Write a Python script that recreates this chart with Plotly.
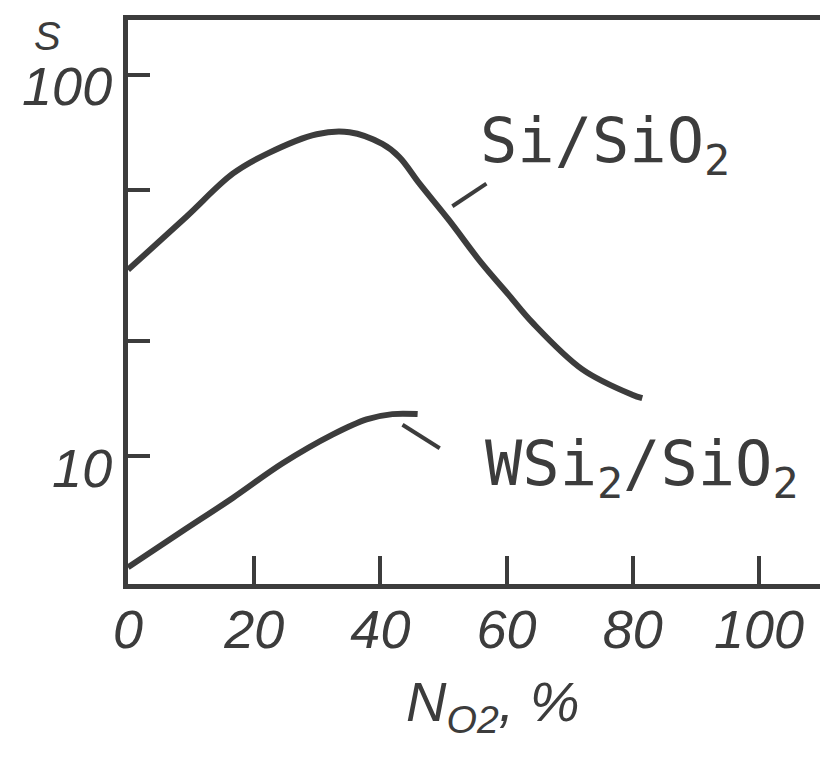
import plotly.graph_objects as go
import math

# Data (N_O2 in %, S on log scale)
n_si = [0, 9.3, 16.6, 22.0, 29.9, 35.1, 40.3, 43.0, 46.2, 50.9, 56.0, 60.4, 64.1, 72.0, 79.9, 81.5]
s_si = [30.8, 42.5, 55.0, 62.0, 69.8, 70.6, 65.8, 60.8, 51.8, 41.5, 32.1, 26.4, 22.4, 16.9, 14.5, 14.2]

n_wsi = [0, 8.7, 16.6, 24.5, 32.4, 37.8, 41.9, 45.9]
s_wsi = [5.12, 6.38, 7.78, 9.59, 11.4, 12.5, 12.9, 12.9]

x_ticks = [0, 20, 40, 60, 80, 100]
x_ticklabels = ["0", "20", "40", "60", "80", "100"]
y_ticks = [10, 20, 50, 100]
y_ticklabels = ["10", "", "", "100"]

ink = "#3c3c3c"
font_num = dict(family="Liberation Sans", size=54, color=ink, style="italic")

fig = go.Figure()
fig.add_trace(go.Scatter(x=n_si, y=s_si, mode="lines", line=dict(color=ink, width=6, shape="spline"),
                         showlegend=False, hoverinfo="skip"))
fig.add_trace(go.Scatter(x=n_wsi, y=s_wsi, mode="lines", line=dict(color=ink, width=6, shape="spline"),
                         showlegend=False, hoverinfo="skip"))
# leader lines for the curve labels
fig.add_trace(go.Scatter(x=[51.4, 56.8], y=[45.2, 51.8], mode="lines", line=dict(color=ink, width=4),
                         showlegend=False, hoverinfo="skip"))
fig.add_trace(go.Scatter(x=[43.5, 49.4], y=[12.1, 10.5], mode="lines", line=dict(color=ink, width=4),
                         showlegend=False, hoverinfo="skip"))

fig.update_xaxes(range=[0, 110.3], tickvals=x_ticks, ticktext=x_ticklabels, ticks="inside",
                 ticklen=28, tickwidth=4, tickcolor=ink, showline=True, linecolor=ink, linewidth=5,
                 mirror=True, showgrid=False, zeroline=False, tickfont=font_num,
                 ticklabelstandoff=-6)
fig.update_yaxes(type="log", range=[math.log10(4.63), 2.143], tickvals=y_ticks, ticktext=y_ticklabels,
                 ticks="inside", ticklen=22, tickwidth=4, tickcolor=ink, showline=True, linecolor=ink,
                 linewidth=5, mirror=True, showgrid=False, zeroline=False, tickfont=font_num,
                 ticklabelshift=12)

label_font = dict(family="DejaVu Sans Mono", size=62, color=ink)
fig.add_annotation(text="Si/SiO<sub>2</sub>", xref="paper", yref="paper", x=0.686, y=0.780,
                   showarrow=False, font=label_font, xanchor="center", yanchor="middle")
fig.add_annotation(text="WSi<sub>2</sub>/SiO<sub>2</sub>", xref="paper", yref="paper", x=0.739, y=0.206,
                   showarrow=False, font=label_font, xanchor="center", yanchor="middle")
fig.add_annotation(text="S", xref="paper", yref="paper", x=-0.116, y=0.972, showarrow=False,
                   font=dict(family="Liberation Sans", size=40, color=ink, style="italic"),
                   xanchor="center", yanchor="middle", borderpad=0)
fig.add_annotation(text="N<sub>O2</sub>, %", xref="paper", yref="paper", x=0.524, y=-0.215,
                   showarrow=False, font=dict(family="Liberation Sans", size=56, color=ink, style="italic"),
                   xanchor="center", yanchor="middle")

fig.update_layout(width=828, height=760, margin=dict(l=120, r=11, t=7, b=184),
                  paper_bgcolor="white", plot_bgcolor="white")
fig.write_html("out.html")
